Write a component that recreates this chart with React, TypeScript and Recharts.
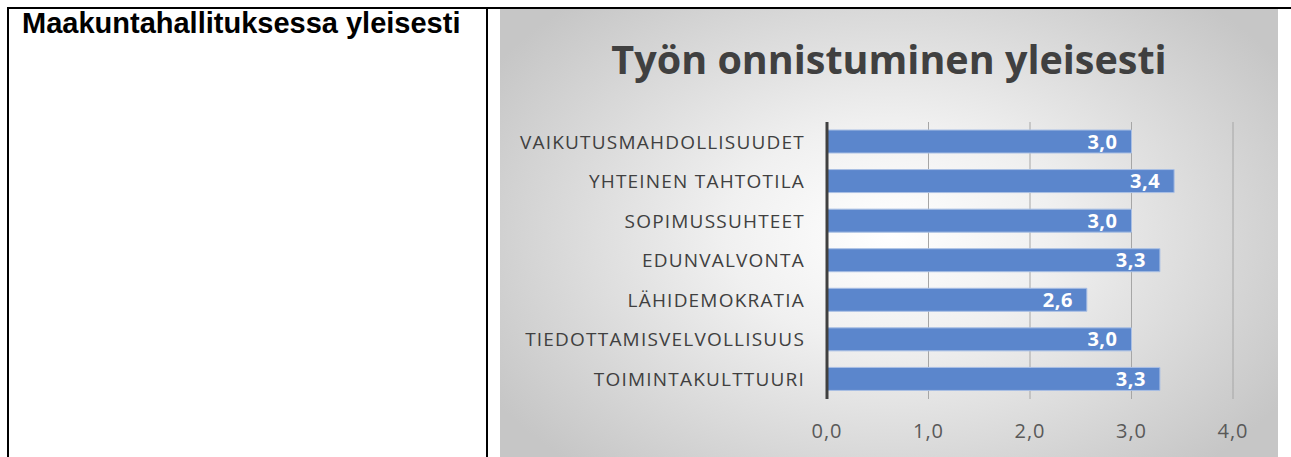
import React from 'react';
import { BarChart, Bar, XAxis, YAxis, CartesianGrid, LabelList } from 'recharts';

const categories = [
  'VAIKUTUSMAHDOLLISUUDET',
  'YHTEINEN TAHTOTILA',
  'SOPIMUSSUHTEET',
  'EDUNVALVONTA',
  'LÄHIDEMOKRATIA',
  'TIEDOTTAMISVELVOLLISUUS',
  'TOIMINTAKULTTUURI',
];
const scores = [3.0, 3.42, 3.0, 3.28, 2.56, 3.0, 3.28];
const xTicks = [0, 1, 2, 3, 4];

const data = categories.map((name, i) => ({ name, score: scores[i] }));

const fmt = (v: number) => Number(v).toFixed(1).replace('.', ',');

export default function App() {
  const font = '"Open Sans", sans-serif';
  return (
    <div style={{ position: 'absolute', left: 0, top: 0, width: 1291, height: 457, overflow: 'hidden', background: '#fff' }}>
      {/* taulukon reunat */}
      <div style={{ position: 'absolute', left: 7, top: 7, width: 1284, height: 2, background: '#000' }} />
      <div style={{ position: 'absolute', left: 7, top: 7, width: 2, height: 450, background: '#000' }} />
      <div style={{ position: 'absolute', left: 486, top: 7, width: 2, height: 450, background: '#000' }} />
      <div
        style={{
          position: 'absolute',
          left: 22,
          top: 7,
          fontFamily: '"Liberation Sans", Arial, sans-serif',
          fontWeight: 'bold',
          fontSize: 29,
          color: '#000',
          whiteSpace: 'nowrap',
        }}
      >
        Maakuntahallituksessa yleisesti
      </div>

      {/* kaavio */}
      <div
        style={{
          position: 'absolute',
          left: 500,
          top: 9,
          width: 778,
          height: 448,
          background: 'radial-gradient(ellipse 60% 70% at 50% 50%, #ffffff 0%, #f0f0f0 35%, #c6c6c6 100%)',
        }}
      >
        <div
          style={{
            position: 'absolute',
            left: 0,
            top: 23,
            width: 778,
            textAlign: 'center',
            fontFamily: font,
            fontWeight: 'bold',
            fontSize: 39.5,
            color: '#404040',
            whiteSpace: 'nowrap',
          }}
        >
          Työn onnistuminen yleisesti
        </div>
        <BarChart
          width={778}
          height={448}
          data={data}
          layout="vertical"
          margin={{ top: 113, right: 45, left: 0, bottom: 28 }}
          style={{ position: 'absolute', left: 0, top: 0 }}
        >
          <CartesianGrid horizontal={false} stroke="#a6a6a6" />
          <XAxis
            type="number"
            domain={[0, 4]}
            ticks={xTicks}
            tickFormatter={fmt}
            axisLine={false}
            tickLine={false}
            tickSize={0}
            tickMargin={25}
            height={30}
            tick={{ fill: '#595959', fontSize: 20, fontFamily: font, letterSpacing: 1 }}
          />
          <YAxis
            type="category"
            dataKey="name"
            width={327}
            tickLine={false}
            tickSize={0}
            tickMargin={22}
            axisLine={{ stroke: '#404040', strokeWidth: 3 }}
            tick={{ fill: '#404040', fontSize: 19, fontFamily: font, letterSpacing: 1.2 }}
            interval={0}
          />
          <Bar dataKey="score" fill="#5b86cc" stroke="#a9bfe4" strokeWidth={1} barSize={23} isAnimationActive={false}>
            <LabelList
              dataKey="score"
              position="insideRight"
              offset={14}
              formatter={(v: any) => fmt(v)}
              fill="#ffffff"
              style={{ fontWeight: 'bold', fontSize: 20, fontFamily: font, letterSpacing: 0.5 }}
            />
          </Bar>
        </BarChart>
      </div>
    </div>
  );
}
